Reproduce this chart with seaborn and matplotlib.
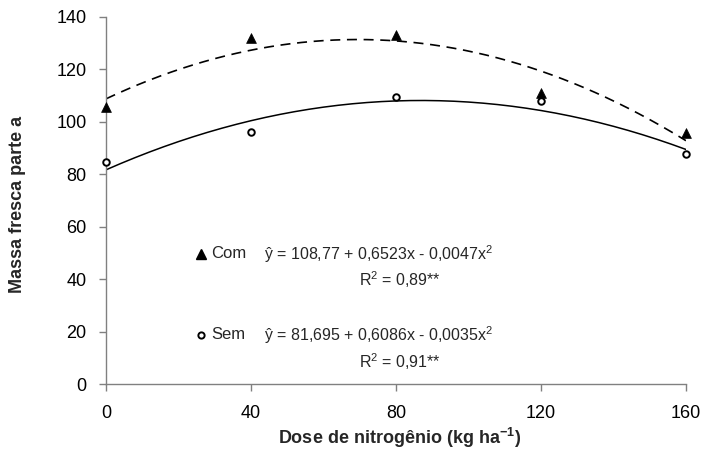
import numpy as np
import pandas as pd
import matplotlib
matplotlib.use("Agg")
import matplotlib.pyplot as plt
import seaborn as sns

# Data
doses = [0, 40, 80, 120, 160]
com_vals = [105.7, 132.0, 133.2, 111.0, 95.8]
sem_vals = [84.7, 96.1, 109.5, 108.0, 87.7]
# regression coefficients printed on the chart (a, b, c) for y = a + b x + c x^2
com_coef = [108.77, 0.6523, -0.0047]
sem_coef = [81.695, 0.6086, -0.0035]
xticks = [0, 40, 80, 120, 160]
yticks = [0, 20, 40, 60, 80, 100, 120, 140]

sns.set_theme(style="white")
plt.rcParams['font.family'] = ['Liberation Sans', 'DejaVu Sans']
plt.rcParams['mathtext.fontset'] = 'custom'
plt.rcParams['mathtext.rm'] = 'Liberation Sans'
plt.rcParams['mathtext.it'] = 'Liberation Sans:italic'
plt.rcParams['mathtext.bf'] = 'Liberation Sans:bold'

fig = plt.figure(figsize=(7.06, 4.63), dpi=100)
ax = fig.add_axes([0.1501, 0.1706, 0.8215, 0.7927])

xs = np.linspace(0, 160, 161)
def curve(c):
    return c[0] + c[1] * xs + c[2] * xs ** 2

df_com = pd.DataFrame({"x": xs, "y": curve(com_coef)})
df_sem = pd.DataFrame({"x": xs, "y": curve(sem_coef)})
sns.lineplot(data=df_com, x="x", y="y", ax=ax, color="black", lw=1.2,
             linestyle=(0, (6, 4)))
sns.lineplot(data=df_sem, x="x", y="y", ax=ax, color="black", lw=1.1)

pts = pd.DataFrame({"x": doses, "com": com_vals, "sem": sem_vals})
sns.scatterplot(data=pts, x="x", y="com", ax=ax, marker="^", color="black",
                s=50, edgecolor="black", linewidth=0.5, zorder=5, clip_on=False)
sns.scatterplot(data=pts, x="x", y="sem", ax=ax, marker="o", facecolor="white",
                s=22, edgecolor="black", linewidth=1.4, zorder=5, clip_on=False)

ax.set_xlim(0, 160)
ax.set_ylim(0, 140)
ax.set_xticks(xticks)
ax.set_yticks(yticks)
ax.tick_params(axis="both", direction="out", length=5, width=1, color="#808080",
               labelsize=13, labelcolor="black", bottom=True, left=True)
ax.tick_params(axis="x", pad=10)
ax.tick_params(axis="y", pad=9)
for s in ["top", "right"]:
    ax.spines[s].set_visible(False)
for s in ["left", "bottom"]:
    ax.spines[s].set_color("#808080")
    ax.spines[s].set_linewidth(1)

ax.set_xlabel("Dose de nitrogênio (kg ha$^{\\mathbf{-1}}$)", fontsize=13, fontweight="bold")
ax.set_ylabel("Massa fresca parte a", fontsize=13, fontweight="bold")
ax.xaxis.set_label_coords(0.507, -0.147)
ax.xaxis.label.set_va("center")
ax.yaxis.set_label_coords(-0.152, 0.49)
ax.yaxis.label.set_va("center")

fs = 11.5
ax.plot([26.2], [49.6], marker="^", color="black", ms=6.5, ls="none", clip_on=False)
ax.text(29.0, 49.6, "Com", fontsize=fs + 0.5, va="center", ha="left")
ax.text(43.5, 49.6, "ŷ = 108,77 + 0,6523x - 0,0047x$^2$",
        fontsize=fs, va="center", ha="left")
ax.text(81.1, 39.7, "R$^2$ = 0,89**", fontsize=fs, va="center", ha="center")

ax.plot([26.2], [18.7], marker="o", mfc="white", mec="black", mew=1.4, ms=4.5, ls="none")
ax.text(29.0, 18.7, "Sem", fontsize=fs + 0.5, va="center", ha="left")
ax.text(43.5, 18.7, "ŷ = 81,695 + 0,6086x - 0,0035x$^2$",
        fontsize=fs, va="center", ha="left")
ax.text(81.1, 8.4, "R$^2$ = 0,91**", fontsize=fs, va="center", ha="center")

fig.savefig("out.png", dpi=100)
